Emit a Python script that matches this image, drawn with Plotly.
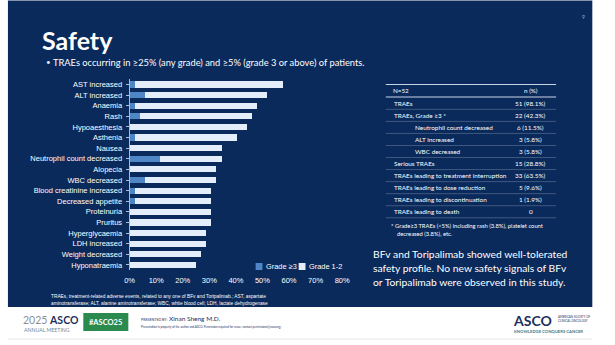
import plotly.graph_objects as go

W, H = 615, 345

# ---------------- data ----------------
categories = ["AST increased", "ALT increased", "Anaemia", "Rash", "Hypoaesthesia",
              "Asthenia", "Nausea", "Neutrophil count decreased", "Alopecia",
              "WBC decreased", "Blood creatinine increased", "Decreased appetite",
              "Proteinuria", "Pruritus", "Hyperglycaemia", "LDH increased",
              "Weight decreased", "Hyponatraemia"]
grade3 = [1.9, 5.8, 1.9, 3.8, 0, 1.9, 0, 11.5, 0, 5.8, 1.9, 1.9, 0, 0, 0, 0, 0, 0]
grade12 = [55.8, 46.1, 46.2, 42.4, 44.2, 38.5, 34.6, 23.1, 32.7, 26.9, 28.9, 28.9,
           30.8, 30.8, 28.8, 28.8, 26.9, 25.0]
series_names = ["Grade ≥3", "Grade 1-2"]
x_tick_vals = [0, 10, 20, 30, 40, 50, 60, 70, 80]
x_tick_text = ["0%", "10%", "20%", "30%", "40%", "50%", "60%", "70%", "80%"]

table_header = ["N=52", "n (%)"]
table_labels = ["TRAEs", "TRAEs, Grade ≥3 *", "Neutrophil count decreased", "ALT increased",
                "WBC decreased", "Serious TRAEs", "TRAEs leading to treatment interruption",
                "TRAEs leading to dose reduction", "TRAEs leading to discontinuation",
                "TRAEs leading to death"]
table_values = ["51 (98.1%)", "22 (42.3%)", "6 (11.5%)", "3 (5.8%)", "3 (5.8%)",
                "15 (28.8%)", "33 (63.5%)", "5 (9.6%)", "1 (1.9%)", "0"]
table_level = [0, 0, 1, 1, 1, 0, 0, 0, 0, 0]

# ---------------- style ----------------
NAVY = "#0a2a5c"
DARK = "#4f86c6"
LIGHT = "#e4eefa"
WHITE = "#ffffff"
CHART_FONT = "Liberation Sans"
SLIDE_FONT = "Lato"


def px(x):
    return x / W


def py(y):
    return 1 - y / H


fig = go.Figure()
fig.add_trace(go.Bar(y=categories, x=grade3, orientation="h", name=series_names[0],
                     marker=dict(color=DARK, line=dict(width=0)), showlegend=False))
fig.add_trace(go.Bar(y=categories, x=grade12, orientation="h", name=series_names[1],
                     marker=dict(color=LIGHT, line=dict(width=0)), showlegend=False))

shapes = []
annotations = []

# slide background
shapes.append(dict(type="rect", xref="paper", yref="paper", x0=px(3), x1=px(600),
                   y0=py(307), y1=py(0.5), fillcolor=NAVY, line=dict(width=0), layer="below"))
# footer line
shapes.append(dict(type="line", xref="paper", yref="paper", x0=px(3), x1=px(600),
                   y0=py(339), y1=py(339), line=dict(color="#e6e6e6", width=1)))


def txt(x, y, s, size, color=WHITE, family=SLIDE_FONT, anchor="left", bold=False):
    if bold:
        s = "<b>" + s + "</b>"
    annotations.append(dict(x=px(x), y=py(y), xref="paper", yref="paper", text=s,
                            showarrow=False, xanchor=anchor, yanchor="middle",
                            font=dict(size=size, color=color, family=family)))


# page number
txt(587, 17, "9", 5, color="#9fb0cc")
# title and subtitle
txt(36, 40, "Safety", 25, bold=True)
txt(40, 62, "•", 8, color="#dfe6f2")
txt(47, 62, "TRAEs occurring in ≥25% (any grade) and ≥5% (grade 3 or above) of patients.", 9.3)

# legend (manual, compact like the original)
legend_colors = [DARK, LIGHT]
legend_x = [256, 300]
for name, col, lx in zip(series_names, legend_colors, legend_x):
    shapes.append(dict(type="rect", xref="paper", yref="paper", x0=px(lx), x1=px(lx + 7),
                       y0=py(270), y1=py(263), fillcolor=col, line=dict(width=0)))
    txt(lx + 9, 266.5, name, 7.4, family=CHART_FONT)

# table
tl, tr = 389, 563
shapes.append(dict(type="line", xref="paper", yref="paper", x0=px(tl), x1=px(tr),
                   y0=py(84.5), y1=py(84.5), line=dict(color="#c9d3e6", width=1)))
shapes.append(dict(type="line", xref="paper", yref="paper", x0=px(tl), x1=px(tr),
                   y0=py(97), y1=py(97), line=dict(color="#c9d3e6", width=1)))
txt(394, 90.5, table_header[0], 6.3)
txt(537, 90.5, table_header[1], 6.3, anchor="center")
row_y0, row_step = 103.3, 12.05
for i, (lab, val, lev) in enumerate(zip(table_labels, table_values, table_level)):
    yy = row_y0 + i * row_step
    txt(395 + 22 * lev, yy, lab, 6.4)
    txt(537, yy, val, 6.4, anchor="center")
    ly = yy + row_step / 2
    shapes.append(dict(type="line", xref="paper", yref="paper", x0=px(tl), x1=px(tr),
                       y0=py(ly), y1=py(ly), line=dict(color="rgba(255,255,255,0.22)", width=1)))
txt(392, 225, "* Grade≥3 TRAEs (<5%) including rash (3.8%), platelet count", 5.8)
txt(398, 233, "decreased (3.8%), etc.", 5.8)

# conclusion text
txt(374, 254, "BFv and Toripalimab showed well-tolerated", 10.3)
txt(374, 268, "safety profile. No new safety signals of BFv", 10.3)
txt(374, 282, "or Toripalimab were observed in this study.", 10.3)

# chart footnote
txt(45, 296, "TRAEs, treatment-related adverse events, related to any one of BFv and Toripalimab.; AST, aspartate", 4.8, family=CHART_FONT)
txt(45, 303, "aminotransferase; ALT, alanine aminotransferase; WBC, white blood cell; LDH, lactate dehydrogenase", 4.8, family=CHART_FONT)

# footer
txt(16, 320, "<span style='color:#8a8f9a'>2025</span> <b>ASCO</b>", 10.5, color="#1c2f5e")
txt(17, 329.5, "ANNUAL MEETING", 5.2, color="#5f8ea3")
shapes.append(dict(type="rect", xref="paper", yref="paper", x0=px(80), x1=px(126),
                   y0=py(331), y1=py(313), fillcolor="#2b8a4e", line=dict(width=0)))
txt(103, 322, "#ASCO25", 7.5, anchor="center", bold=True)
txt(137, 318, "<span style='font-size:3.6px'>PRESENTED BY:</span> Xinan Sheng M.D.", 6.5, color="#1c2f5e")
txt(137, 326.5, "Presentation is property of the author and ASCO. Permission required for reuse; contact permissions@asco.org.", 2.9, color="#1c2f5e")
txt(517, 320, "<b>ASCO</b>", 14, color="#1c2f5e")
txt(563, 317, "AMERICAN SOCIETY OF", 2.9, color="#1c2f5e")
txt(563, 320.5, "CLINICAL ONCOLOGY", 2.9, color="#1c2f5e")
txt(518, 331, "KNOWLEDGE CONQUERS CANCER", 4.2, color="#3a7d8c", bold=True)

x_dom = [px(127.3), px(127.3 + 80 * 2.714)]
y_dom = [py(270.2), py(79.2)]

fig.update_layout(
    width=W, height=H,
    margin=dict(l=0, r=0, t=0, b=0),
    paper_bgcolor=WHITE, plot_bgcolor="rgba(0,0,0,0)",
    barmode="stack", bargap=0.42,
    showlegend=False,
    xaxis=dict(domain=x_dom, range=[0, 80], tickvals=x_tick_vals, ticktext=x_tick_text,
               showgrid=False, zeroline=False, showline=False, ticks="",
               tickfont=dict(size=7.5, color=WHITE, family=CHART_FONT),
               ticklabelstandoff=4, fixedrange=True),
    yaxis=dict(domain=y_dom, autorange="reversed", showgrid=False, zeroline=False,
               showline=True, linecolor="#a9bcd9", linewidth=1,
               ticks="outside", ticklen=3, tickcolor="#a9bcd9",
               tickfont=dict(size=7.5, color=WHITE, family=CHART_FONT),
               ticklabelstandoff=2),
    shapes=shapes, annotations=annotations,
)

fig.write_html("out.html")
